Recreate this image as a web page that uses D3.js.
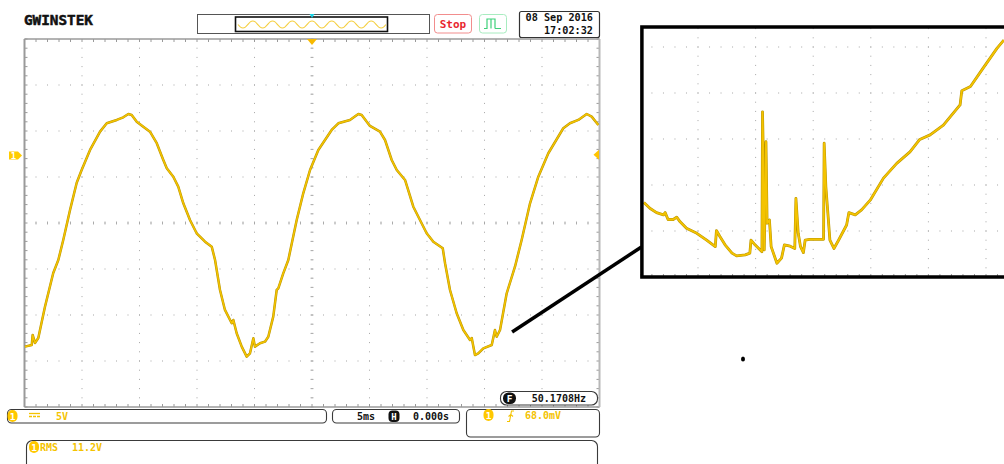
<!DOCTYPE html>
<html><head><meta charset="utf-8">
<script src="https://cdn.jsdelivr.net/npm/d3@7"></script>
<style>
html,body{margin:0;padding:0;background:#fff;}
svg{display:block;}
text{font-family:"DejaVu Sans Mono",monospace;font-weight:bold;}
</style></head><body>
<svg id="scope" width="1004" height="464"></svg>
<script>
// ---- CH1 acquisition: time (ms, 0 = trigger) and voltage (V) ----
const ch1Time = [-24.96,-24.37,-24.29,-24.09,-23.80,-23.22,-22.50,-22.06,-21.63,-21.04,-20.46,-20.03,-19.30,-18.43,-17.85,-16.98,-16.41,-15.97,-15.68,-15.24,-14.67,-14.09,-13.50,-12.93,-12.63,-12.06,-11.63,-11.19,-10.61,-10.03,-9.30,-8.72,-8.43,-8.00,-7.57,-6.98,-6.84,-6.55,-6.11,-5.68,-5.39,-5.10,-4.96,-4.52,-4.09,-3.80,-3.37,-3.07,-2.93,-2.50,-2.06,-1.33,-0.76,-0.17,0.55,1.71,2.29,3.30,4.03,4.32,5.04,5.91,6.35,6.93,7.37,8.09,8.81,9.39,9.97,10.55,11.37,11.57,12.00,12.58,13.16,13.74,13.89,14.17,14.46,14.90,15.63,15.91,16.06,16.35,16.93,17.65,18.23,18.96,19.68,20.55,21.85,22.43,23.16,23.89,24.32,24.90];
const ch1Volts = [-20.79,-20.61,-19.52,-20.39,-19.85,-16.45,-12.78,-11.37,-9.20,-5.93,-2.98,-1.59,0.59,2.58,3.49,3.85,4.14,4.50,4.39,3.66,3.12,2.58,1.32,-0.50,-1.40,-2.32,-3.40,-5.21,-7.02,-8.47,-9.38,-9.92,-11.37,-14.63,-16.80,-18.25,-17.89,-19.34,-20.79,-21.88,-21.51,-19.88,-20.79,-20.42,-20.25,-19.71,-17.53,-14.63,-14.45,-12.82,-11.37,-7.02,-4.12,-1.59,0.59,2.76,3.49,3.85,4.50,4.39,3.20,2.58,1.67,-0.50,-1.59,-2.67,-5.58,-7.02,-8.47,-9.38,-10.10,-11.73,-14.63,-17.16,-18.98,-20.07,-19.85,-21.70,-21.51,-20.97,-20.61,-18.98,-19.71,-18.98,-14.99,-12.10,-9.20,-5.21,-2.32,0.23,2.95,3.49,3.85,4.50,4.21,3.30];

// ---- zoomed capture of the trough (screen divisions) ----
const zoomDivX = [0.06,0.17,0.28,0.40,0.43,0.48,0.57,0.63,0.69,0.80,0.98,1.15,1.30,1.32,1.38,1.47,1.59,1.67,1.82,1.90,1.92,1.99,2.11,2.12,2.13,2.15,2.16,2.18,2.20,2.24,2.27,2.37,2.45,2.50,2.60,2.68,2.70,2.74,2.78,2.83,2.86,2.94,3.18,3.19,3.22,3.29,3.36,3.44,3.58,3.62,3.73,3.84,3.99,4.22,4.45,4.68,4.85,5.03,5.26,5.55,5.58,5.73,5.95,6.19,6.31];
const zoomDivY = [1.62,1.49,1.40,1.35,1.40,1.25,1.25,1.30,1.20,1.06,0.95,0.80,0.66,1.01,0.88,0.70,0.52,0.46,0.48,0.52,0.80,0.70,0.55,3.59,2.94,0.59,1.24,2.94,1.17,1.24,0.66,0.30,0.41,0.70,0.67,0.62,1.71,0.95,0.66,0.53,0.80,0.82,0.82,2.91,1.96,0.80,0.62,0.80,1.13,1.40,1.35,1.46,1.67,2.15,2.47,2.72,2.99,3.09,3.30,3.74,4.05,4.14,4.54,4.97,5.15];

// ---- memory overview thumbnail: one cycle of the shape, repeated ----
const miniCycle = [0.0, -0.75, -1.0, -0.75, 0.0, 0.75, 1.0, 0.75];
const miniCycles = 7.5;

// ---- instrument settings shown on screen ----
const ch1Scale = 5;          // V/div
const ch1OffsetDiv = 1.47;   // ground marker position (div above centre)
const timeScale = 5;         // ms/div
const trigLevel = 0.068;     // V
const ch1Label = "5V";
const timeLabel = "5ms";
const hPosLabel = "0.000s";
const trigLabel = "68.0mV";
const freqLabel = "50.1708Hz";
const rmsName = "RMS";
const rmsLabel = "11.2V";
const dateLine1 = "08 Sep 2016";
const dateLine2 = "17:02:32";

const YEL = "#f4c300", YEL_DK = "#b89400", GRID = "#a6a6a6", EDGE = "#9a9a9a";

const svg = d3.select("#scope");

// ---- main graticule ----
const P = {left: 24.5, right: 599.5, top: 39, bottom: 407};
const divX = d3.scaleLinear().domain([-5, 5]).range([P.left, P.right]);
const divY = d3.scaleLinear().domain([-4, 4]).range([P.bottom, P.top]);
const x = d3.scaleLinear().domain([-5 * timeScale, 5 * timeScale]).range([P.left, P.right]);
const y = d3.scaleLinear()
  .domain([(-4 - ch1OffsetDiv) * ch1Scale, (4 - ch1OffsetDiv) * ch1Scale])
  .range([P.bottom, P.top]);

function graticule(g, dx, dy, nx0, nx1, ny0, ny1, opts) {
  const minorX = d3.range(nx0 * 5, nx1 * 5 + 1).map(d => d / 5);
  const minorY = d3.range(ny0 * 5, ny1 * 5 + 1).map(d => d / 5);
  const majX = d3.range(nx0 + 1, nx1);
  const majY = d3.range(ny0 + 1, ny1);
  // dotted vertical lines
  majX.forEach(mx => {
    g.append("g").selectAll("rect").data(minorY.slice(1, -1)).join("rect")
      .attr("x", dx(mx) - 0.5).attr("y", d => dy(d) - 0.5)
      .attr("width", 1).attr("height", 1).attr("fill", GRID);
  });
  // dotted horizontal lines
  majY.forEach(my => {
    g.append("g").selectAll("rect").data(minorX.slice(1, -1)).join("rect")
      .attr("x", d => dx(d) - 0.5).attr("y", dy(my) - 0.5)
      .attr("width", 1).attr("height", 1).attr("fill", GRID);
  });
  if (opts.axes) {
    g.append("g").selectAll("line").data(minorY).join("line")
      .attr("x1", dx(0) - 1.5).attr("x2", dx(0) + 1.5)
      .attr("y1", d => dy(d)).attr("y2", d => dy(d))
      .attr("stroke", GRID).attr("stroke-width", 0.9);
    g.append("g").selectAll("line").data(minorX).join("line")
      .attr("y1", dy(0) - 1.5).attr("y2", dy(0) + 1.5)
      .attr("x1", d => dx(d)).attr("x2", d => dx(d))
      .attr("stroke", GRID).attr("stroke-width", 0.9);
  }
  if (opts.edgeTicks) {
    const tk = 3;
    g.append("g").selectAll("line").data(minorX).join("line")
      .attr("x1", d => dx(d)).attr("x2", d => dx(d))
      .attr("y1", dy(ny1)).attr("y2", dy(ny1) + tk).attr("stroke", EDGE);
    g.append("g").selectAll("line").data(minorX).join("line")
      .attr("x1", d => dx(d)).attr("x2", d => dx(d))
      .attr("y1", dy(ny0)).attr("y2", dy(ny0) - tk).attr("stroke", EDGE);
    g.append("g").selectAll("line").data(minorY).join("line")
      .attr("y1", d => dy(d)).attr("y2", d => dy(d))
      .attr("x1", dx(nx0)).attr("x2", dx(nx0) + tk).attr("stroke", EDGE);
    g.append("g").selectAll("line").data(minorY).join("line")
      .attr("y1", d => dy(d)).attr("y2", d => dy(d))
      .attr("x1", dx(nx1)).attr("x2", dx(nx1) - tk).attr("stroke", EDGE);
  }
}

const grid = svg.append("g");
graticule(grid, divX, divY, -5, 5, -4, 4, {axes: true, edgeTicks: true});
// frame
grid.append("line").attr("x1", P.left).attr("x2", P.right).attr("y1", P.top).attr("y2", P.top).attr("stroke", EDGE).attr("stroke-width", 1.5);
grid.append("line").attr("x1", P.left).attr("x2", P.right).attr("y1", P.bottom).attr("y2", P.bottom).attr("stroke", EDGE).attr("stroke-width", 1.5);
grid.append("line").attr("x1", P.left).attr("x2", P.left).attr("y1", P.top).attr("y2", P.bottom).attr("stroke", EDGE).attr("stroke-width", 2);
grid.append("line").attr("x1", P.right).attr("x2", P.right).attr("y1", P.top).attr("y2", P.bottom).attr("stroke", "#b8b8b8").attr("stroke-width", 2);

// ---- CH1 trace ----
const ch1 = ch1Time.map((t, i) => [t, ch1Volts[i]]);
const line = d3.line().x(d => x(d[0])).y(d => y(d[1]));
svg.append("path").datum(ch1).attr("d", line).attr("fill", "none")
  .attr("stroke", YEL_DK).attr("stroke-width", 2.5).attr("stroke-linejoin", "round");
svg.append("path").datum(ch1).attr("d", line).attr("fill", "none")
  .attr("stroke", YEL).attr("stroke-width", 1.5).attr("stroke-linejoin", "round");

// ground marker (left) and trigger level marker (right)
const gy = y(0);
svg.append("path").attr("d", `M9,${gy - 4}H18L22,${gy}L18,${gy + 4}H9Z`).attr("fill", "#ffcc00");
svg.append("text").attr("x", 13.5).attr("y", gy + 3.5).attr("text-anchor", "middle")
  .attr("font-size", 9).attr("fill", "#fff").text("1");
const ty = y(trigLevel);
svg.append("path").attr("d", `M${P.right - 0.5},${ty - 5}L${P.right - 6},${ty}L${P.right - 0.5},${ty + 5}Z`).attr("fill", "#ffc400");
// trigger position marker (top)
svg.append("path").attr("d", `M${x(0) - 5},${P.top}H${x(0) + 5}L${x(0)},${P.top + 6}Z`).attr("fill", "#f7b900");

// ---- top bar ----
svg.append("text").attr("x", 24).attr("y", 25).attr("font-family", "'DejaVu Sans',sans-serif")
  .attr("font-weight", "bold").attr("font-size", 14).attr("textLength", 69)
  .attr("lengthAdjust", "spacingAndGlyphs").attr("fill", "#111")
  .attr("stroke", "#111").attr("stroke-width", 0.5).text("GWINSTEK");

// memory overview
svg.append("rect").attr("x", 197.5).attr("y", 14.5).attr("width", 232).attr("height", 19)
  .attr("fill", "#fff").attr("stroke", "#555");
svg.append("rect").attr("x", 235.5).attr("y", 17).attr("width", 152).attr("height", 14.5)
  .attr("fill", "#fff").attr("stroke", "#111").attr("stroke-width", 1.6);
const miniPts = d3.range(0, Math.round(miniCycles * miniCycle.length) + 1)
  .map(i => [i / miniCycle.length, miniCycle[i % miniCycle.length]]);
const mx = d3.scaleLinear().domain([0, miniCycles]).range([238, 386]);
const my = d3.scaleLinear().domain([-1, 1]).range([28, 21]);
svg.append("path").datum(miniPts).attr("fill", "none").attr("stroke", "#f5cf40").attr("stroke-width", 1.1)
  .attr("d", d3.line().x(d => mx(d[0])).y(d => my(d[1])).curve(d3.curveCardinal));
svg.append("path").attr("d", "M309.5,14H314.5L312,18Z").attr("fill", "#19d3e6");

// Stop
svg.append("rect").attr("x", 434.5).attr("y", 14.5).attr("width", 37).attr("height", 18.5).attr("rx", 3)
  .attr("fill", "#fff").attr("stroke", "#f28d8d");
svg.append("text").attr("x", 453).attr("y", 27.5).attr("text-anchor", "middle")
  .attr("font-family", "'DejaVu Sans',sans-serif").attr("font-size", 11).attr("fill", "#e8262d").text("Stop");
// trigger mode icon
svg.append("rect").attr("x", 479.5).attr("y", 14.5).attr("width", 27).attr("height", 18.5).attr("rx", 3)
  .attr("fill", "#fff").attr("stroke", "#a8ecc0");
svg.append("path").attr("d", "M484,28.5H487V19H495V28.5M491,19V28.5M495,28.5H501")
  .attr("fill", "none").attr("stroke", "#3fd07a").attr("stroke-width", 1.2);

// date / time
svg.append("rect").attr("x", 519.5).attr("y", 11.5).attr("width", 80).attr("height", 26).attr("rx", 2)
  .attr("fill", "#fff").attr("stroke", "#333").attr("stroke-width", 1.2);
svg.append("text").attr("x", 593).attr("y", 21).attr("text-anchor", "end").attr("font-size", 10.2)
  .attr("fill", "#111").text(dateLine1);
svg.append("text").attr("x", 593).attr("y", 33.5).attr("text-anchor", "end").attr("font-size", 10.2)
  .attr("fill", "#111").text(dateLine2);

// ---- bottom status area ----
function box(x0, y0, w, h, r) {
  svg.append("rect").attr("x", x0).attr("y", y0).attr("width", w).attr("height", h).attr("rx", r)
    .attr("fill", "#fff").attr("stroke", "#3a3a3a").attr("stroke-width", 1.1);
}
function chBadge(cx, cy) {
  svg.append("rect").attr("x", cx - 5).attr("y", cy - 6).attr("width", 10).attr("height", 12).attr("rx", 5)
    .attr("fill", "#ffc800");
  svg.append("text").attr("x", cx).attr("y", cy + 3.5).attr("text-anchor", "middle")
    .attr("font-size", 9.5).attr("fill", "#fff").text("1");
}

// frequency readout
box(500.5, 391.5, 97, 13.5, 6);
svg.append("rect").attr("x", 503).attr("y", 392.5).attr("width", 13).attr("height", 11.5).attr("rx", 5.5).attr("fill", "#111");
svg.append("text").attr("x", 509.5).attr("y", 402).attr("text-anchor", "middle").attr("font-size", 9.5)
  .attr("fill", "#fff").text("F");
svg.append("text").attr("x", 586).attr("y", 402).attr("text-anchor", "end").attr("font-size", 10)
  .attr("fill", "#111").text(freqLabel);

// channel 1 settings
box(7.5, 409.5, 319, 13.5, 4);
chBadge(12.5, 416);
svg.append("line").attr("x1", 29).attr("x2", 40).attr("y1", 413.5).attr("y2", 413.5).attr("stroke", YEL).attr("stroke-width", 1.3);
svg.append("line").attr("x1", 29).attr("x2", 40).attr("y1", 416.5).attr("y2", 416.5).attr("stroke", YEL)
  .attr("stroke-width", 1.3).attr("stroke-dasharray", "3,1");
svg.append("text").attr("x", 56).attr("y", 420).attr("font-size", 10).attr("fill", YEL).text(ch1Label);

// horizontal settings
box(332.5, 409.5, 127, 13.5, 4);
svg.append("text").attr("x", 357).attr("y", 420).attr("font-size", 10).attr("fill", "#111").text(timeLabel);
svg.append("rect").attr("x", 388.5).attr("y", 410.5).attr("width", 11).attr("height", 11.5).attr("rx", 4).attr("fill", "#111");
svg.append("text").attr("x", 394).attr("y", 419.8).attr("text-anchor", "middle").attr("font-size", 9)
  .attr("fill", "#fff").text("H");
svg.append("text").attr("x", 449).attr("y", 420).attr("text-anchor", "end").attr("font-size", 10)
  .attr("fill", "#111").text(hPosLabel);

// trigger settings
box(466.5, 409.5, 133, 27.5, 4);
chBadge(488.5, 415);
svg.append("path").attr("d", "M507,421.5H509.5L511.5,411H514M508.5,416.5L510.8,414.5L513,416.5")
  .attr("fill", "none").attr("stroke", YEL).attr("stroke-width", 1.1);
svg.append("text").attr("x", 525).attr("y", 419).attr("font-size", 10).attr("fill", YEL).text(trigLabel);

// measurement
box(26.5, 440.5, 571, 32, 6);
chBadge(34, 447);
svg.append("text").attr("x", 40).attr("y", 451).attr("font-size", 10).attr("fill", YEL).text(rmsName);
svg.append("text").attr("x", 72).attr("y", 451).attr("font-size", 10).attr("fill", YEL).text(rmsLabel);

// ---- zoomed view of the trough ----
const Z = {left: 640.4, top: 27, bottom: 277};
const zx = d3.scaleLinear().domain([0, 1]).range([Z.left, Z.left + 57.6]);
const zy = d3.scaleLinear().domain([0, 1]).range([Z.bottom, Z.bottom - 46]);
const zoomG = svg.append("g");
zoomG.append("rect").attr("x", Z.left).attr("y", Z.top).attr("width", 400).attr("height", Z.bottom - Z.top).attr("fill", "#fff");
const zclip = svg.append("clipPath").attr("id", "zclip");
zclip.append("rect").attr("x", Z.left).attr("y", Z.top).attr("width", 400).attr("height", Z.bottom - Z.top);
const zInner = zoomG.append("g").attr("clip-path", "url(#zclip)");
graticule(zInner, zx, zy, 0, 7, 0, 6, {axes: false, edgeTicks: false});
// bottom graticule edge with ticks
zInner.append("g").selectAll("line").data(d3.range(0, 36).map(d => d / 5)).join("line")
  .attr("x1", d => zx(d)).attr("x2", d => zx(d)).attr("y1", Z.bottom).attr("y2", Z.bottom - 3)
  .attr("stroke", EDGE);
const zPts = zoomDivX.map((d, i) => [d, zoomDivY[i]]);
const zLine = d3.line().x(d => zx(d[0])).y(d => zy(d[1]));
zInner.append("path").datum(zPts).attr("d", zLine).attr("fill", "none")
  .attr("stroke", YEL_DK).attr("stroke-width", 2.8).attr("stroke-linejoin", "round");
zInner.append("path").datum(zPts).attr("d", zLine).attr("fill", "none")
  .attr("stroke", YEL).attr("stroke-width", 1.8).attr("stroke-linejoin", "round");
// frame of the zoomed view
zoomG.append("path").attr("d", `M1010,${Z.top}H${Z.left + 1.5}V${Z.bottom}H1010`)
  .attr("fill", "none").attr("stroke", "#000").attr("stroke-width", 3.5);

// connector from the main trace to the zoomed view
const connStart = [17.4, -19.2];
svg.append("line").attr("x1", x(connStart[0])).attr("y1", y(connStart[1]))
  .attr("x2", Z.left + 1).attr("y2", 247)
  .attr("stroke", "#000").attr("stroke-width", 3.5);

// stray pen mark
svg.append("ellipse").attr("cx", 743).attr("cy", 359).attr("rx", 2).attr("ry", 2.6).attr("fill", "#000");
</script>
</body></html>
